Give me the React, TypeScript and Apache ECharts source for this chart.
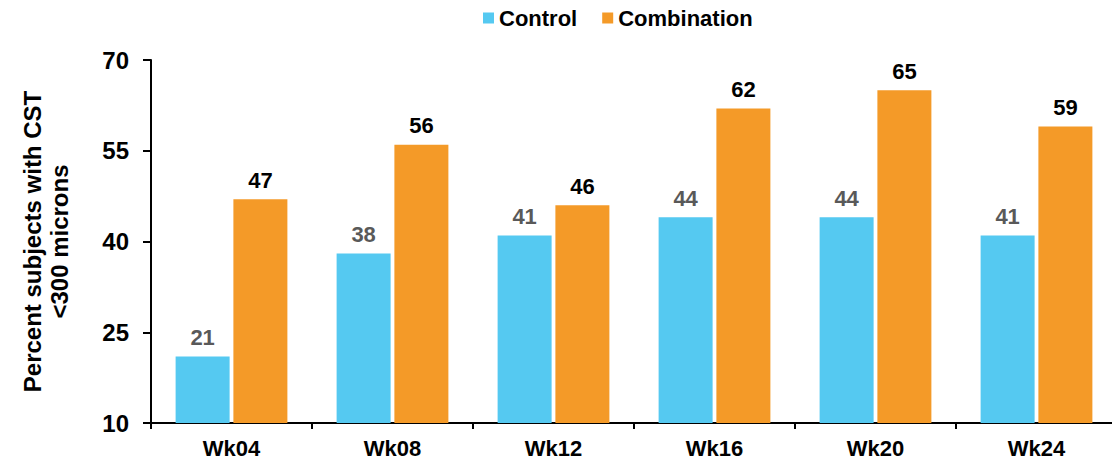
import React, { useEffect, useRef } from "react";
import * as echarts from "echarts";

const weeks = ["Wk04", "Wk08", "Wk12", "Wk16", "Wk20", "Wk24"];
const controlValues = [21, 38, 41, 44, 44, 41];
const combinationValues = [47, 56, 46, 62, 65, 59];
const yTicks = [10, 25, 40, 55, 70];

const FONT = "'Liberation Sans', Arial, sans-serif";

export default function App() {
  const ref = useRef<HTMLDivElement>(null);

  useEffect(() => {
    if (!ref.current) return;
    const chart = echarts.init(ref.current, null, { renderer: "svg" });
    chart.setOption({
      animation: false,
      textStyle: { fontFamily: FONT },
      legend: {
        top: 2,
        left: 478,
        itemWidth: 11,
        itemHeight: 11,
        itemGap: 25,
        icon: "rect",
        textStyle: { fontFamily: FONT, fontSize: 22, fontWeight: "bold", color: "#000" },
        data: ["Control", "Combination"],
      },
      grid: { left: 151, right: 0, top: 60, bottom: 42, containLabel: false },
      xAxis: {
        type: "category",
        data: weeks,
        axisLine: { lineStyle: { color: "#000", width: 2 } },
        axisTick: { show: true, length: 6, lineStyle: { color: "#000", width: 2 } },
        axisLabel: { fontFamily: FONT, fontSize: 22, fontWeight: "bold", color: "#000", margin: 14 },
      },
      yAxis: {
        type: "value",
        min: yTicks[0],
        max: yTicks[yTicks.length - 1],
        interval: 15,
        name: "Percent subjects with CST\n<300 microns",
        nameLocation: "middle",
        nameGap: 78,
        nameTextStyle: { fontFamily: FONT, fontSize: 24, fontWeight: "bold", color: "#000", lineHeight: 27 },
        axisLine: { show: true, lineStyle: { color: "#000", width: 2 } },
        axisTick: { show: true, inside: false, length: 8, lineStyle: { color: "#000", width: 2 } },
        axisLabel: { fontFamily: FONT, fontSize: 24, fontWeight: "bold", color: "#000", margin: 22 },
        splitLine: { show: false },
      },
      series: [
        {
          name: "Control",
          type: "bar",
          data: controlValues,
          barWidth: 54,
          barGap: "7%",
          itemStyle: { color: "#55C9F1" },
          label: {
            show: true,
            position: "top",
            distance: 8,
            fontFamily: FONT,
            fontSize: 22,
            fontWeight: "bold",
            color: "#595959",
          },
        },
        {
          name: "Combination",
          type: "bar",
          data: combinationValues,
          barWidth: 54,
          itemStyle: { color: "#F49A28" },
          label: {
            show: true,
            position: "top",
            distance: 8,
            fontFamily: FONT,
            fontSize: 22,
            fontWeight: "bold",
            color: "#000",
          },
        },
      ],
    });
    return () => chart.dispose();
  }, []);

  return (
    <div
      ref={ref}
      style={{ position: "fixed", left: 0, top: 0, width: 1117, height: 465, background: "#fff" }}
    />
  );
}
